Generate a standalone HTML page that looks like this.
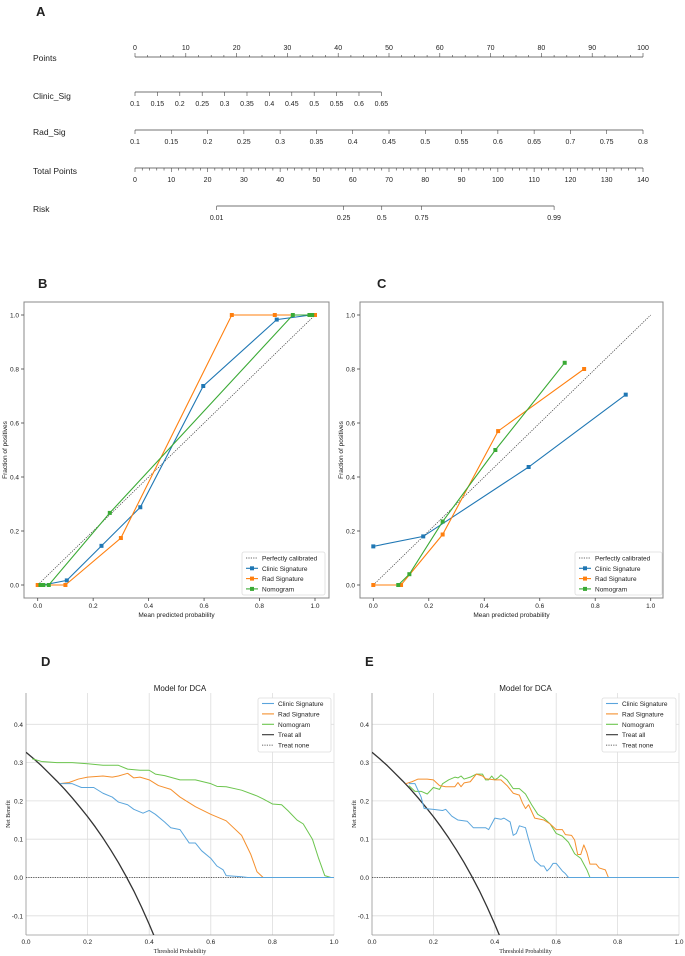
<!DOCTYPE html>
<html><head><meta charset="utf-8">
<style>
html,body{margin:0;padding:0;background:#fff;}
svg{display:block;font-family:"Liberation Sans",sans-serif;}
</style></head>
<body>
<svg id="fig" width="685" height="956" viewBox="0 0 685 956" xmlns="http://www.w3.org/2000/svg">
<defs>
<clipPath id="clipD"><rect x="26" y="693" width="308" height="242"/></clipPath>
<clipPath id="clipE"><rect x="372" y="693" width="307" height="242"/></clipPath>
</defs>
</svg>
<script>
// ---------- data ----------
const nomPointsTicks=[0,10,20,30,40,50,60,70,80,90,100];
const nomClinicTicks=["0.1","0.15","0.2","0.25","0.3","0.35","0.4","0.45","0.5","0.55","0.6","0.65"];
const nomRadTicks=["0.1","0.15","0.2","0.25","0.3","0.35","0.4","0.45","0.5","0.55","0.6","0.65","0.7","0.75","0.8"];
const nomTotalTicks=[0,10,20,30,40,50,60,70,80,90,100,110,120,130,140];
const nomRiskLabels=["0.01","0.25","0.5","0.75","0.99"];
const nomRiskTotals=[22.5,57.5,68,79,115.5];

const calTicks=[0,0.2,0.4,0.6,0.8,1.0];
const bClinicX=[0.02,0.105,0.23,0.37,0.597,0.862,0.985];
const bClinicY=[0.0,0.017,0.145,0.288,0.737,0.983,1.0];
const bRadX=[0.0,0.1,0.3,0.70,0.855,1.0];
const bRadY=[0.0,0.0,0.174,1.0,1.0,1.0];
const bNomX=[0.01,0.02,0.04,0.26,0.92,0.98,0.99];
const bNomY=[0.0,0.0,0.0,0.267,1.0,1.0,1.0];
const cClinicX=[0.0,0.18,0.56,0.91];
const cClinicY=[0.143,0.18,0.437,0.705];
const cRadX=[0.0,0.1,0.25,0.45,0.76];
const cRadY=[0.0,0.0,0.187,0.57,0.8];
const cNomX=[0.09,0.13,0.25,0.44,0.69];
const cNomY=[0.0,0.04,0.235,0.5,0.823];

const dcaXTicks=[0,0.2,0.4,0.6,0.8,1.0];
const dcaYTicks=[-0.1,0,0.1,0.2,0.3,0.4];
const treatAllT=[0,0.025,0.05,0.075,0.1,0.125,0.15,0.175,0.2,0.225,0.25,0.275,0.3,0.325,0.35,0.375,0.4,0.425,0.45];
const treatAllNB=[0.327,0.310,0.292,0.272,0.252,0.231,0.208,0.184,0.159,0.132,0.103,0.072,0.039,0.003,-0.035,-0.077,-0.122,-0.170,-0.224];
const dClinicT=[0.11,0.15,0.18,0.22,0.25,0.28,0.3,0.33,0.35,0.38,0.4,0.42,0.45,0.47,0.5,0.53,0.55,0.57,0.6,0.62,0.64,0.65,0.7,0.72,1.0];
const dClinicNB=[0.245,0.245,0.235,0.235,0.22,0.21,0.197,0.19,0.178,0.168,0.175,0.165,0.145,0.13,0.125,0.09,0.09,0.07,0.05,0.03,0.02,0.005,0.002,0,0];
const dRadT=[0.11,0.14,0.17,0.2,0.25,0.28,0.3,0.33,0.35,0.37,0.4,0.43,0.47,0.5,0.55,0.6,0.65,0.7,0.73,0.75,0.77,1.0];
const dRadNB=[0.245,0.248,0.257,0.262,0.265,0.262,0.265,0.272,0.26,0.262,0.255,0.24,0.23,0.21,0.185,0.165,0.148,0.11,0.06,0.015,0,0];
const dNomT=[0.02,0.05,0.1,0.15,0.2,0.25,0.3,0.33,0.37,0.4,0.42,0.45,0.5,0.55,0.6,0.62,0.65,0.7,0.75,0.77,0.8,0.83,0.85,0.88,0.9,0.93,0.95,0.97,0.99,1.0];
const dNomNB=[0.31,0.303,0.3,0.3,0.297,0.293,0.293,0.283,0.28,0.28,0.27,0.266,0.255,0.255,0.245,0.238,0.237,0.228,0.213,0.205,0.192,0.19,0.175,0.15,0.14,0.1,0.05,0.005,0,0];
const eClinicT=[0.12,0.14,0.16,0.17,0.2,0.23,0.24,0.26,0.28,0.31,0.33,0.35,0.37,0.38,0.4,0.42,0.43,0.45,0.46,0.47,0.48,0.5,0.51,0.53,0.55,0.56,0.57,0.58,0.59,0.6,0.62,0.63,0.64,1.0];
const eClinicNB=[0.245,0.245,0.21,0.18,0.178,0.175,0.178,0.16,0.15,0.147,0.13,0.13,0.13,0.125,0.155,0.152,0.155,0.145,0.11,0.115,0.135,0.13,0.1,0.045,0.03,0.03,0.017,0.025,0.037,0.037,0.017,0.01,0,0];
const eRadT=[0.11,0.13,0.15,0.18,0.2,0.22,0.24,0.27,0.28,0.29,0.3,0.32,0.34,0.36,0.37,0.4,0.42,0.44,0.46,0.48,0.49,0.5,0.51,0.53,0.56,0.58,0.6,0.62,0.63,0.65,0.66,0.67,0.68,0.69,0.7,0.71,0.73,0.74,0.76,0.77,1.0];
const eRadNB=[0.245,0.25,0.257,0.257,0.255,0.24,0.237,0.237,0.248,0.237,0.247,0.25,0.27,0.265,0.258,0.255,0.255,0.24,0.22,0.215,0.195,0.18,0.19,0.155,0.15,0.14,0.125,0.125,0.112,0.11,0.098,0.06,0.06,0.085,0.065,0.035,0.035,0.025,0.02,0,0];
const eNomT=[0.12,0.14,0.16,0.18,0.2,0.22,0.23,0.25,0.27,0.28,0.29,0.3,0.32,0.34,0.36,0.37,0.38,0.39,0.4,0.41,0.42,0.44,0.46,0.48,0.5,0.52,0.54,0.56,0.58,0.6,0.62,0.64,0.66,0.68,0.7,0.71,1.0];
const eNomNB=[0.24,0.225,0.225,0.218,0.235,0.23,0.245,0.255,0.262,0.26,0.265,0.257,0.262,0.27,0.27,0.255,0.255,0.265,0.255,0.26,0.268,0.255,0.232,0.232,0.218,0.19,0.165,0.155,0.14,0.115,0.108,0.092,0.062,0.05,0.02,0,0];

// ---------- helpers ----------
const svg=document.getElementById('fig');
const NS='http://www.w3.org/2000/svg';
function mk(tag,attrs,parent,text){const e=document.createElementNS(NS,tag);for(const k in attrs)e.setAttribute(k,attrs[k]);if(text!==undefined)e.textContent=text;(parent||svg).appendChild(e);return e;}
function grp(name,parent){const g=mk('g',{},parent);return g;}
function txt(parent,name,x,y,s,size,anchor,extra){const t=mk('text',Object.assign({x:x,y:y,'font-size':size,'text-anchor':anchor||'start',fill:'#222'},extra||{}),parent,s);return t;}
function line(parent,x1,y1,x2,y2,stroke,w,extra){return mk('line',Object.assign({x1:x1,y1:y1,x2:x2,y2:y2,stroke:stroke,'stroke-width':w},extra||{}),parent);}

// ---------- Panel A: nomogram ----------
const gA=grp('nomogram-panel');
txt(gA,'panel-label-a',36,16,'A',13,'start',{'font-weight':'bold'});
const nx0=135,nx1=643;
const pX=v=>nx0+(nx1-nx0)*v/100;
const tX=v=>nx0+(nx1-nx0)*v/140;
function rowLabel(name,s,y){txt(gA,name,33,y+4,s,8.5);}
rowLabel('points-label','Points',57);
line(gA,nx0,57,nx1,57,'#444',0.8);
for(let v=0;v<=100;v+=2.5){line(gA,pX(v),57,pX(v),v%10===0?53:55,'#444',0.6);}
nomPointsTicks.forEach(v=>txt(gA,'points-tick',pX(v),50,String(v),7,'middle'));
rowLabel('clinic-sig-label','Clinic_Sig',95);
const cStep=(pX(48.5)-nx0)/(nomClinicTicks.length-1);
line(gA,nx0,92,nx0+cStep*(nomClinicTicks.length-1),92,'#444',0.8);
nomClinicTicks.forEach((s,i)=>{const x=nx0+cStep*i;line(gA,x,92,x,96,'#444',0.6);txt(gA,'clinic-sig-tick',x,106,s,7,'middle');});
rowLabel('rad-sig-label','Rad_Sig',131);
const rStep=(nx1-nx0)/(nomRadTicks.length-1);
line(gA,nx0,130,nx1,130,'#444',0.8);
nomRadTicks.forEach((s,i)=>{const x=nx0+rStep*i;line(gA,x,130,x,134,'#444',0.6);txt(gA,'rad-sig-tick',x,144,s,7,'middle');});
rowLabel('total-points-label','Total Points',170);
line(gA,nx0,168,nx1,168,'#444',0.8);
for(let v=0;v<=140;v+=2){line(gA,tX(v),168,tX(v),v%10===0?172:170.5,'#444',0.6);}
nomTotalTicks.forEach(v=>txt(gA,'total-points-tick',tX(v),182,String(v),7,'middle'));
rowLabel('risk-label','Risk',208);
line(gA,tX(nomRiskTotals[0]),206,tX(nomRiskTotals[nomRiskTotals.length-1]),206,'#444',0.8);
nomRiskLabels.forEach((s,i)=>{const x=tX(nomRiskTotals[i]);line(gA,x,206,x,210,'#444',0.6);txt(gA,'risk-tick',x,220,s,7,'middle');});

// ---------- calibration panels ----------
function calPanel(o){
  const g=grp(o.name);
  const X=v=>o.x0+(o.x1-o.x0)*v, Y=v=>o.y0+(o.y1-o.y0)*v;
  txt(g,o.letterName,o.letterX,288,o.letter,13,'start',{'font-weight':'bold'});
  const frame=mk('rect',{x:o.L,y:302,width:o.R-o.L,height:296,fill:'none',stroke:'#888','stroke-width':1},g);
  
  calTicks.forEach(v=>{line(g,X(v),598,X(v),601,'#444',0.8);txt(g,'x-tick-label',X(v),608,v.toFixed(1),6.5,'middle');
    line(g,o.L,Y(v),o.L-3,Y(v),'#444',0.8);txt(g,'y-tick-label',o.L-5,Y(v)+2.5,v.toFixed(1),6.5,'end');});
  txt(g,'x-axis-title',(o.L+o.R)/2,617,'Mean predicted probability',6.5,'middle');
  txt(g,'y-axis-title',0,0,'Fraction of positives',6.5,'middle',{transform:`translate(${o.L-17},450) rotate(-90)`});
  const diag=mk('line',{x1:X(0),y1:Y(0),x2:X(1),y2:Y(1),stroke:'#333','stroke-width':0.7,'stroke-dasharray':'1.2,1.2'},g);
  
  o.series.forEach(s=>{
    const pl=mk('polyline',{points:s.x.map((v,i)=>X(v)+','+Y(s.y[i])).join(' '),fill:'none',stroke:s.c,'stroke-width':1.1},g);
    
    s.x.forEach((v,i)=>{const r=mk('rect',{x:X(v)-2,y:Y(s.y[i])-2,width:4,height:4,fill:s.c},g);
      });
  });
  const lg=grp('legend',g);
  const lb=mk('rect',{x:o.lx,y:552,width:o.lw,height:43,fill:'#fff',stroke:'#ddd','stroke-width':0.8,rx:2},lg);
  
  const items=[['Perfectly calibrated','#333',true],['Clinic Signature','#1f77b4'],['Rad Signature','#ff7f0e'],['Nomogram','#3aaa35']];
  items.forEach((it,i)=>{const y=558+i*10.3;
    line(lg,o.lx+4,y,o.lx+16,y,it[1],it[2]?0.7:1.1,it[2]?{'stroke-dasharray':'1.2,1.2'}:{});
    if(!it[2])mk('rect',{x:o.lx+8,y:y-2,width:4,height:4,fill:it[1]},lg);
    txt(lg,'legend-entry',o.lx+20,y+2.5,it[0],6.5);});
}
calPanel({name:'calibration-panel-b',letter:'B',letterName:'panel-label-b',letterX:38,L:24,R:329,x0:37.7,x1:315,y0:585,y1:315,lx:242,lw:83,
  series:[{n:'clinic-signature',x:bClinicX,y:bClinicY,c:'#1f77b4'},{n:'rad-signature',x:bRadX,y:bRadY,c:'#ff7f0e'},{n:'nomogram',x:bNomX,y:bNomY,c:'#3aaa35'}]});
calPanel({name:'calibration-panel-c',letter:'C',letterName:'panel-label-c',letterX:377,L:360,R:663,x0:373.3,x1:650.7,y0:585,y1:315,lx:575,lw:87,
  series:[{n:'clinic-signature',x:cClinicX,y:cClinicY,c:'#1f77b4'},{n:'rad-signature',x:cRadX,y:cRadY,c:'#ff7f0e'},{n:'nomogram',x:cNomX,y:cNomY,c:'#3aaa35'}]});

// ---------- DCA panels ----------
function dcaPanel(o){
  const g=grp(o.name);
  const X=v=>o.L+(o.R-o.L)*v, Y=v=>877.5-v*383;
  txt(g,o.letterName,o.letterX,666,o.letter,13,'start',{'font-weight':'bold'});
  txt(g,'chart-title',(o.L+o.R)/2,691,'Model for DCA',8,'middle');
  dcaXTicks.forEach(v=>{line(g,X(v),693,X(v),935,'#ddd',0.8);txt(g,'x-tick-label',X(v),944,v.toFixed(1),6.5,'middle');});
  dcaYTicks.forEach(v=>{line(g,o.L,Y(v),o.R,Y(v),'#ddd',0.8);txt(g,'y-tick-label',o.L-3,Y(v)+2.5,v.toFixed(1),6.5,'end');});
  line(g,o.L,693,o.L,935,'#999',0.8);line(g,o.L,935,o.R,935,'#999',0.8);
  txt(g,'x-axis-title',(o.L+o.R)/2,953,'Threshold Probability',6,'middle',{'font-family':'Liberation Serif, serif'});
  txt(g,'y-axis-title',0,0,'Net Benefit',6,'middle',{transform:`translate(${o.L-16},814) rotate(-90)`,'font-family':'Liberation Serif, serif'});
  const pg=mk('g',{'clip-path':`url(#${o.clip})`},g);
  const tn=mk('line',{x1:X(0),y1:Y(0),x2:X(1),y2:Y(0),stroke:'#333','stroke-width':0.8,'stroke-dasharray':'1.2,1.2'},pg);
  
  o.series.forEach(s=>{const pl=mk('polyline',{points:s.x.map((v,i)=>X(v)+','+Y(s.y[i])).join(' '),fill:'none',stroke:s.c,'stroke-width':s.w||1,'stroke-linejoin':'round'},pg);
    });
  const lg=grp('legend',g);
  const lb=mk('rect',{x:o.lx,y:698,width:o.lw,height:54,fill:'#fff',stroke:'#ddd','stroke-width':0.8,rx:2},lg);
  
  const items=[['Clinic Signature','#5aa5dc'],['Rad Signature','#f5902e'],['Nomogram','#6cc54e'],['Treat all','#333'],['Treat none','#333',true]];
  items.forEach((it,i)=>{const y=703.5+i*10.4;
    line(lg,o.lx+4,y,o.lx+16,y,it[1],it[2]?0.8:1.1,it[2]?{'stroke-dasharray':'1.2,1.2'}:{});
    txt(lg,'legend-entry',o.lx+20,y+2.5,it[0],6.5);});
}
dcaPanel({name:'dca-panel-d',letter:'D',letterName:'panel-label-d',letterX:41,L:26,R:334,clip:'clipD',lx:258,lw:73,
  series:[{n:'treat-all-line',x:treatAllT,y:treatAllNB,c:'#333',w:1.3},{n:'nomogram-line',x:dNomT,y:dNomNB,c:'#6cc54e'},{n:'rad-signature-line',x:dRadT,y:dRadNB,c:'#f5902e'},{n:'clinic-signature-line',x:dClinicT,y:dClinicNB,c:'#5aa5dc'}]});
dcaPanel({name:'dca-panel-e',letter:'E',letterName:'panel-label-e',letterX:365,L:372,R:679,clip:'clipE',lx:602,lw:74,
  series:[{n:'treat-all-line',x:treatAllT,y:treatAllNB,c:'#333',w:1.3},{n:'nomogram-line',x:eNomT,y:eNomNB,c:'#6cc54e'},{n:'rad-signature-line',x:eRadT,y:eRadNB,c:'#f5902e'},{n:'clinic-signature-line',x:eClinicT,y:eClinicNB,c:'#5aa5dc'}]});
</script>
</body></html>
